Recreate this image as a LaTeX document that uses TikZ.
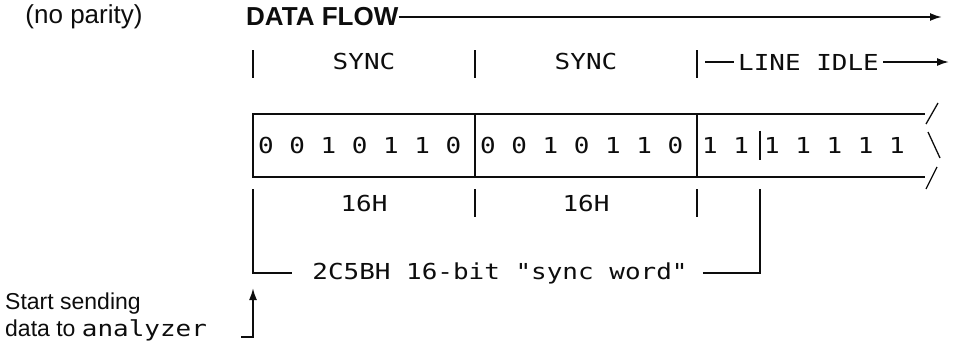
\documentclass[tikz,border=0pt]{standalone}
\usepackage{fontspec}
\setmainfont{Liberation Sans}
\newfontfamily\codefont[FakeStretch=1.18]{DejaVu Sans Mono}
\newcommand{\codesize}{\codefont\fontsize{22}{26}\selectfont}
\usetikzlibrary{arrows.meta, calc, positioning}
\definecolor{InkBlack}{gray}{0.05}
\tikzset{%
  cell/.style={%
    rectangle,%
    draw=InkBlack,%
    line width=1.8pt,%
    inner sep=0pt,%
    outer sep=0pt,%
    minimum width=222pt,%
    minimum height=63pt,%
    anchor=north west%
  },
  bits/.style={%
    color=InkBlack,%
    inner sep=0pt,%
    font={\codesize}%
  },
  sans_label/.style={%
    color=InkBlack,%
    inner sep=0pt,%
    font={\fontsize{26}{30}\selectfont}%
  },
  flow_label/.style={%
    sans_label,%
    font={\fontsize{26}{30}\selectfont\bfseries}%
  },
  note_label/.style={%
    color=InkBlack,%
    inner sep=0pt,%
    font={\fontsize{23}{27}\selectfont}%
  },
  tick_path/.style={%
    color=InkBlack,%
    line width=1.9pt%
  },
  arrow/.style={-{Latex[length=12pt, width=8pt]}},
}

\begin{document}
\begin{tikzpicture}[x=1pt, y=-1pt]
  \useasboundingbox (0,0) rectangle (961,354);

  \node [sans_label] (parity) at (84,17) {(no parity)};
  \node [flow_label, anchor=west] (flow) at (246,17) {DATA FLOW};
  \coordinate (flow_end) at (942,17);
  \draw [arrow, tick_path] (flow.east) -- (flow_end);

  % the two sync bytes and the idle line
  \node [cell] (byte1) at (253,114) {};
  \node [cell] (byte2) at (byte1.north east) {};
  \coordinate (idle_top) at ($(byte2.north east)+(228,0)$);
  \coordinate (idle_bottom) at ($(byte2.south east)+(228,0)$);
  \coordinate (idle_mark) at ($(byte2.east)+(63,0)$);
  \draw [tick_path] (byte2.north east) -- (idle_top);
  \draw [tick_path] (byte2.south east) -- (idle_bottom);
  \draw [tick_path, line width=1.3pt] ($(idle_top)+(1,10)$) -- ++(12,-21);
  \draw [tick_path, line width=1.3pt] ($(idle_top)+(3,18)$) -- ++(12,26);
  \draw [tick_path, line width=1.3pt] ($(idle_bottom)+(1,12)$) -- ++(11,-22);

  \node [bits, right=5pt of byte1.west] (bits1) {0 0 1 0 1 1 0};
  \node [bits, right=5pt of byte2.west] (bits2) {0 0 1 0 1 1 0};
  \node [bits, right=5pt of byte2.east] (bits3) {1 1};
  \draw [tick_path, line width=1.3pt]
    ($(idle_mark)+(0,-15)$) -- ($(idle_mark)+(0,14)$);
  \node [bits, right=4pt of idle_mark] (bits4) {1 1 1 1 1};

  % labels above
  \foreach \edge in {byte1.north west, byte2.north west, byte2.north east}
    \draw [tick_path] ($(\edge)+(0,-64)$) -- ++(0,28);
  \node [bits, above=44pt of byte1.north] (sync1) {SYNC};
  \node [bits, above=44pt of byte2.north] (sync2) {SYNC};
  \node [bits, anchor=west] (idle) at ($(byte2.north east)+(41,-52)$) {LINE IDLE};
  \draw [tick_path] ($(idle.west)+(-33,0)$) -- ($(idle.west)+(-4,0)$);
  \draw [arrow, tick_path] ($(idle.east)+(4,0)$) -- ++(66,0);

  % labels below
  \foreach \edge in {byte2.south west, byte2.south east}
    \draw [tick_path] ($(\edge)+(0,12)$) -- ++(0,28);
  \node [bits, below=18pt of byte1.south] (hex1) {16H};
  \node [bits, below=18pt of byte2.south] (hex2) {16H};
  \node [bits] (sync_word) at ($(byte2.south west)+(25,96)$)
    {2C5BH 16-bit "sync word"};
  \draw [tick_path]
    ($(byte1.south west)+(0,12)$)
    |-
    ($(sync_word.west)+(-20,0)$);
  \draw [tick_path]
    ($(sync_word.east)+(15,0)$)
    -|
    ($(idle_mark |- byte2.south)+(0,12)$);

  % where the analyzer starts
  \node [note_label, anchor=base west] (start1) at (5,309) {Start sending};
  \node [note_label, anchor=base west] (start2) at (5,336)
    {data to {\codesize analyzer}};
  \coordinate (start_tip) at ($(byte1.south west)+(0,111)$);
  \coordinate (start_hook) at ($(start_tip)+(-12,49)$);
  \draw [arrow, tick_path] (start_hook) -| (start_tip);
\end{tikzpicture}
\end{document}
